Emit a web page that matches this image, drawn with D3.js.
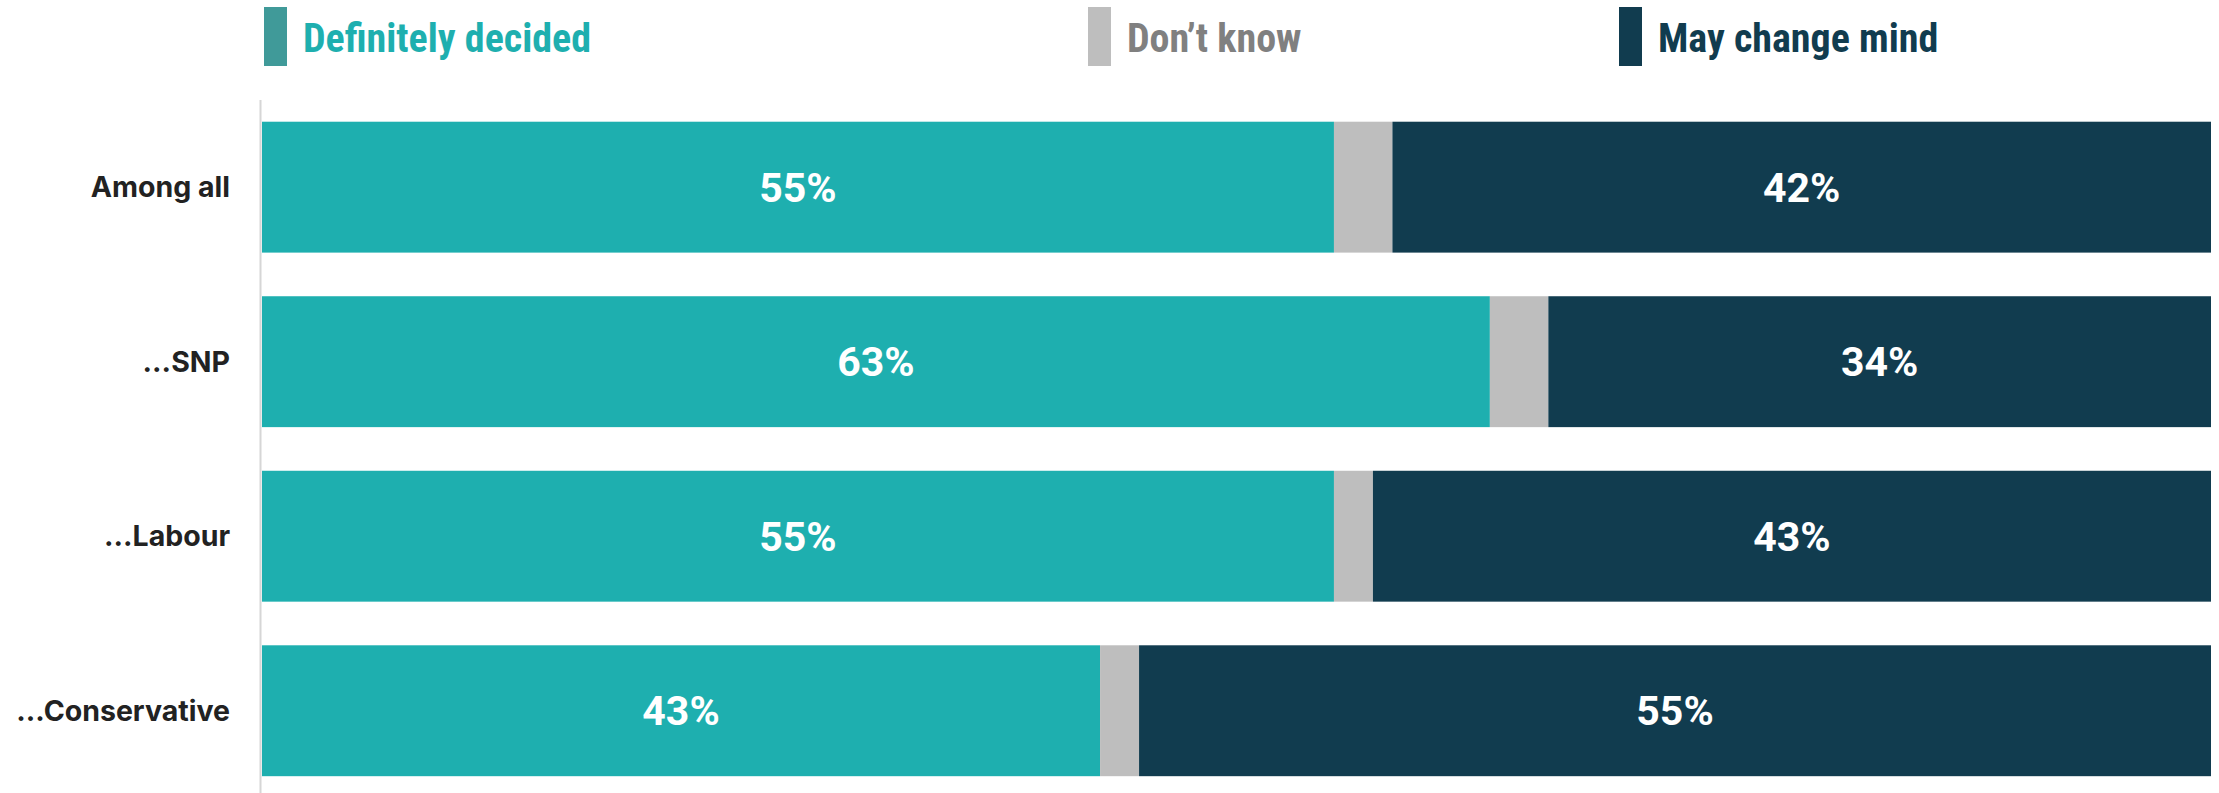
<!DOCTYPE html>
<html><head><meta charset="utf-8">
<script src="https://cdn.jsdelivr.net/npm/d3@7"></script>
<style>body{margin:0;background:#fff}svg{display:block}</style>
</head><body><div id="chart"></div>
<script>
const categories = ["Among all", "...SNP", "...Labour", "...Conservative"];
const seriesNames = ["Definitely decided", "Don\u2019t know", "May change mind"];
const decided = [55, 63, 55, 43];
const dontKnow = [3, 3, 2, 2];
const mayChange = [42, 34, 43, 55];
const barColors = ["#1eafaf", "#bebebe", "#113c4f"];
const swatchColors = ["#409a99", "#bebebe", "#113c4f"];
const legendTextColors = ["#1eafaf", "#808080", "#113c4f"];
const legendX = [264, 1088, 1619];

const W = 2219, H = 793;
const svg = d3.select("#chart").append("svg").attr("width", W).attr("height", H);
const plotLeft = 262, plotRight = 2211, plotTop = 100, plotBottom = 793;

const rows = categories.map((c, i) => ({cat: c, v: [decided[i], dontKnow[i], mayChange[i]]}));
const x = d3.scaleLinear().domain([0, 100]).range([plotLeft, plotRight]);
const y = d3.scaleBand().domain(categories).range([99.9, 798]).paddingInner(0.25).paddingOuter(0.125);

// axis line
svg.append("line").attr("x1", 260.5).attr("x2", 260.5).attr("y1", plotTop).attr("y2", plotBottom)
  .attr("stroke", "#d6d6d6").attr("stroke-width", 2);

const g = svg.append("g");
rows.forEach(r => {
  let acc = 0;
  r.v.forEach((val, k) => {
    const x0 = x(acc), x1 = x(acc + val);
    g.append("rect").attr("x", x0).attr("y", y(r.cat)).attr("width", x1 - x0).attr("height", y.bandwidth())
      .attr("fill", barColors[k]);
    if (k !== 1) {
      g.append("text").attr("x", (x0 + x1) / 2).attr("y", y(r.cat) + y.bandwidth() / 2)
        .attr("text-anchor", "middle").attr("dy", "0.36em")
        .attr("font-family", "Roboto, sans-serif").attr("font-weight", 700).attr("font-size", 41)
        .attr("fill", "#fff").text(val + "%");
    }
    acc += val;
  });
});

// category labels
const yAxis = svg.append("g").attr("transform", `translate(230,0)`)
  .call(d3.axisLeft(y).tickSize(0).tickPadding(0));
yAxis.select(".domain").remove();
yAxis.selectAll("text").attr("font-family", "Inter, sans-serif").attr("font-weight", 700)
  .attr("font-size", 28.5).attr("fill", "#222").attr("dy", "0.36em");

// legend
const lg = svg.append("g");
seriesNames.forEach((s, i) => {
  lg.append("rect").attr("x", legendX[i]).attr("y", 7).attr("width", 23).attr("height", 59).attr("fill", swatchColors[i]);
  lg.append("text").attr("x", legendX[i] + 39).attr("y", 52)
    .attr("font-family", "'Liberation Sans Narrow', 'Roboto Condensed', sans-serif").attr("font-weight", 700)
    .attr("font-size", 40).attr("fill", legendTextColors[i]).text(s);
});
</script></body></html>
